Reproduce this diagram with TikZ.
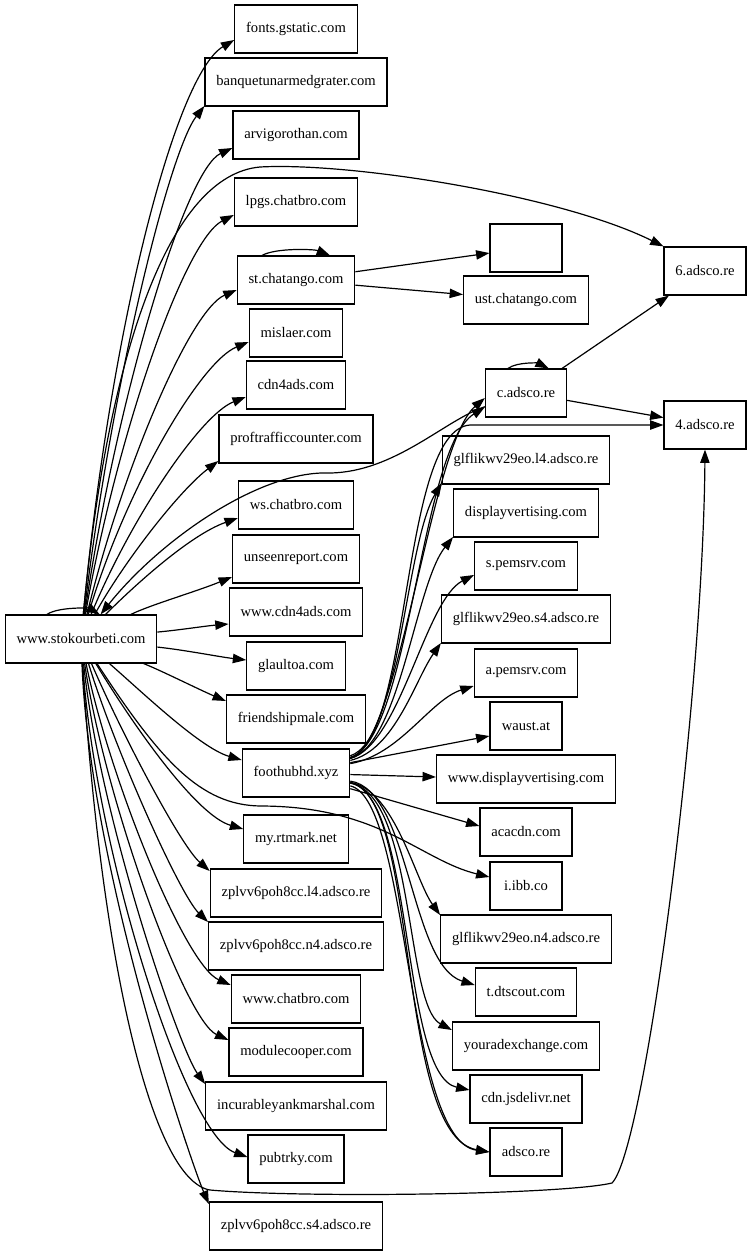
\documentclass[tikz,border=0pt]{standalone}
\usepackage{fontspec}
\setmainfont{Liberation Serif}
\usetikzlibrary{arrows.meta}

\begin{document}
\begin{tikzpicture}[x=0.75pt, y=0.75pt, line width=0.9pt,
  box/.style={draw, rectangle, minimum height=36pt, minimum width=54pt, inner xsep=8.5pt, font=\fontsize{10.95}{13}\selectfont},
  >={Triangle[length=10pt, width=7pt]}]
\useasboundingbox (0,0) rectangle (752,-1256);
\node[box] (stok) at (81,-639) {www.stokourbeti.com};
\foreach \n/\y/\txt in {fonts/29/fonts.gstatic.com, banq/82/banquetunarmedgrater.com, arvi/135/arvigorothan.com,
  lpgs/202/lpgs.chatbro.com, stc/280/st.chatango.com, misl/333/mislaer.com, cdn/385/cdn4ads.com,
  prof/439/proftrafficcounter.com, wsch/505/ws.chatbro.com, unse/559/unseenreport.com, wcdn/612/www.cdn4ads.com,
  glau/666/glaultoa.com, frie/719/friendshipmale.com, foot/773/foothubhd.xyz, rtm/839/my.rtmark.net,
  zl4/893/zplvv6poh8cc.l4.adsco.re, zn4/946/zplvv6poh8cc.n4.adsco.re, wchat/999/www.chatbro.com,
  modu/1052/modulecooper.com, incu/1106/incurableyankmarshal.com, pubt/1159/pubtrky.com, zs4/1226/zplvv6poh8cc.s4.adsco.re}
  \node[box] (\n) at (296,-\y) {\txt};
\node[box] (empt) at (526,-248) {};
\foreach \n/\y/\txt in {ust/300/ust.chatango.com, cad/393/c.adsco.re, gl4/460/glflikwv29eo.l4.adsco.re,
  dvert/513/displayvertising.com, spem/566/s.pemsrv.com, gs4/619/glflikwv29eo.s4.adsco.re, apem/673/a.pemsrv.com,
  waus/726/waust.at, wdv/779/www.displayvertising.com, acac/832/acacdn.com, ibb/886/i.ibb.co,
  gn4/939/glflikwv29eo.n4.adsco.re, dts/992/t.dtscout.com, yax/1046/youradexchange.com,
  jsd/1099/cdn.jsdelivr.net, ads/1152/adsco.re}
  \node[box] (\n) at (526,-\y) {\txt};
\node[box] (ad6) at (705,-271) {6.adsco.re};
\node[box] (ad4) at (705,-425) {4.adsco.re};
% stokourbeti fan
\foreach \n/\dy/\ax/\ay/\bx/\by in {fonts/-11/110/330/175/75, banq/-24/112/380/170/150, arvi/-13/116/400/185/170,
  lpgs/-13/118/430/185/240, stc/-10/122/470/190/310, misl/-9/125/490/200/362, cdn/-12/130/520/200/415,
  prof/-22/125/560/180/490, wsch/-13/135/585/190/535, unse/-18/150/605/195/592, wcdn/-12/180/630/205/626,
  glau/6/185/650/220/657, frie/18/160/670/200/690, foot/13/140/690/200/748, rtm/10/130/720/195/815,
  zl4/22/120/730/180/845, zn4/24/115/750/180/895, wchat/14/110/780/185/965, modu/12/105/800/185/1020,
  incu/22/100/820/180/1050, pubt/2/95/850/185/1135, zs4/22/90/870/192/1165}
  \draw[->] (stok) .. controls (\ax,-\ay) and (\bx,-\by) .. ([yshift=\dy*0.75pt]\n.west);
\draw[->] ([xshift=-25.5pt]stok.north) .. controls +(12,8) and +(-10,6) .. ([xshift=14pt]stok.north);
\draw[->] (stok) .. controls (108,-350) and (170,-175) .. (260,-167) .. controls (350,-162) and (560,-195) .. (ad6.north west);
\draw[->] (cad) .. controls (445,-420) and (395,-472) .. (330,-473) .. controls (260,-470) and (160,-540) .. (stok);
\draw[->] (stok) .. controls (160,-760) and (200,-805) .. (260,-806) .. controls (380,-806) and (420,-860) .. ([yshift=6.75pt]ibb.west);
\draw[->] (stok) .. controls (100,-950) and (150,-1180) .. (210,-1190) .. controls (300,-1198) and (560,-1195) .. (612,-1183) .. controls (645,-1150) and (703,-700) .. (ad4.south);
% foothubhd fan
\foreach \n/\dy/\ax/\ay/\bx/\by in {cad/-5/400/745/430/445, cad/-14/410/740/420/448, gl4/-23/400/740/405/545,
  dvert/-24/400/745/415/585, spem/-9/400/745/425/600, gs4/-24/395/750/415/680, apem/-13/400/755/430/700,
  gn4/24/395/790/415/880, dts/7/410/790/410/965, yax/16/415/795/405/1005, jsd/9/415/795/400/1075,
  ads/0/420/795/395/1135, ads/0/410/800/405/1140}
  \draw[->] (foot) .. controls (\ax,-\ay) and (\bx,-\by) .. ([yshift=\dy*0.75pt]\n.west);
\foreach \n/\dy in {waus/-10, wdv/2, acac/6}
  \draw[->] (foot) -- ([yshift=\dy*0.75pt]\n.west);
\draw[->] (foot) .. controls (412,-740) and (400,-430) .. (470,-425) -- (ad4.west);
% chatango and c.adsco
\draw[->] (stc) -- (empt);
\draw[->] (stc) -- (ust);
\draw[->] ([xshift=-25.5pt]stc.north) .. controls +(15,8) and +(-15,6) .. ([xshift=25.5pt]stc.north);
\draw[->] (cad) -- (ad6);
\draw[->] (cad) -- (ad4);
\draw[->] ([xshift=-13.5pt]cad.north) .. controls +(10,7) and +(-10,5) .. ([xshift=17pt]cad.north);
\end{tikzpicture}
\end{document}
